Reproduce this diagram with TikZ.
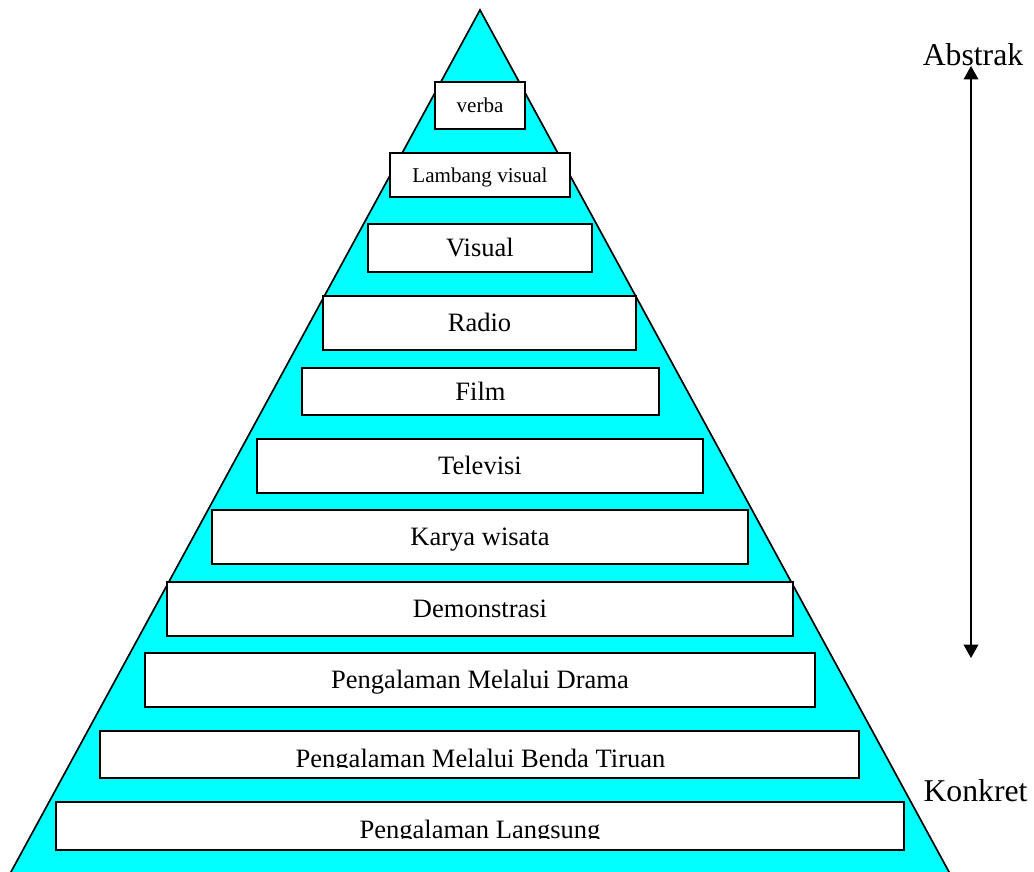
\documentclass[tikz,border=0pt]{standalone}
\usepackage{fontspec}
\setmainfont{Liberation Serif}
\usetikzlibrary{arrows.meta}

\definecolor{pyramidcyan}{RGB}{0,255,255}

\tikzset{
  tier/.style={draw, fill=white, line width=1.25pt, inner sep=0pt, text height=13.2pt, text depth=0pt, font=\fontsize{19.9}{24}\selectfont},
  smalltier/.style={tier, text height=10.5pt, font=\fontsize{15.8}{19}\selectfont},
  tiertext/.style={inner sep=0pt, font=\fontsize{19.9}{24}\selectfont},
  endlabel/.style={inner sep=0pt, text height=15.8pt, text depth=0pt, font=\fontsize{23.8}{28}\selectfont}
}

\begin{document}
\begin{tikzpicture}[x=0.75pt,y=0.75pt,yscale=-1,xscale=1]
\useasboundingbox (0,0) rectangle (1034,871);

%Shape: Triangle [pyramid, base runs past the bottom edge]
\draw [fill=pyramidcyan, line width=1.25pt, line join=miter] (480,10) -- (953.4,880) -- (6.6,880) -- cycle;

% Tiers, top to bottom
\node [smalltier, minimum width=90*0.75pt, minimum height=47*0.75pt] (verba) at (480,105.5) {verba};
\node [smalltier, minimum width=180*0.75pt, minimum height=44*0.75pt] (lambang) at (480,175) {Lambang visual};
\node [tier, minimum width=224*0.75pt, minimum height=48*0.75pt] (visual) at (480,248) {Visual};
\node [tier, minimum width=313*0.75pt, minimum height=54*0.75pt] (radio) at (479.5,323) {Radio};
\node [tier, minimum width=357*0.75pt, minimum height=47*0.75pt] (film) at (480.5,391.5) {Film};
\node [tier, minimum width=446*0.75pt, minimum height=54*0.75pt] (televisi) at (480,466) {Televisi};
\node [tier, minimum width=536*0.75pt, minimum height=54*0.75pt] (wisata) at (480,537) {Karya wisata};
\node [tier, minimum width=626*0.75pt, minimum height=54*0.75pt] (demonstrasi) at (480,609) {Demonstrasi};
\node [tier, minimum width=670*0.75pt, minimum height=54*0.75pt] (drama) at (480,680) {Pengalaman Melalui Drama};
\node [tier, minimum width=759*0.75pt, minimum height=47*0.75pt] (tiruan) at (479.5,754.5) {};
\node [tier, minimum width=848*0.75pt, minimum height=48*0.75pt] (langsung) at (480,826) {};

% Text Node (cut at the baseline)
\begin{scope}
  \clip (100,731) rectangle (859,767.5);
  \node [tiertext, anchor=base] (tiruantext) at (480.5,767) {Pengalaman Melalui Benda Tiruan};
\end{scope}
% Text Node (cut at the baseline)
\begin{scope}
  \clip (56,802) rectangle (904,838.5);
  \node [tiertext, anchor=base] (langsungtext) at (480,838) {Pengalaman Langsung};
\end{scope}

% Text Node
\node [endlabel] (abstrak) at (973,55) {Abstrak};
% Text Node
\node [endlabel] (konkret) at (975.5,791) {Konkret};

%Straight Lines [scale arrow]
\coordinate (arrowtop) at (971,66);
\coordinate (arrowbottom) at (971,658);
\draw [line width=1pt, {Triangle[width=11pt,length=10pt]}-{Triangle[width=11pt,length=10pt]}] (arrowtop) -- (arrowbottom);

\end{tikzpicture}
\end{document}
